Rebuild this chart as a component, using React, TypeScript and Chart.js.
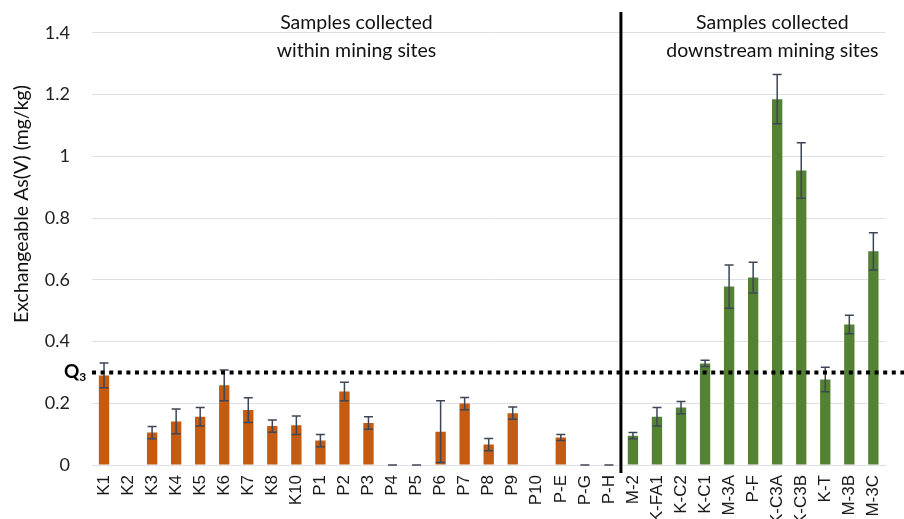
import { useEffect, useRef } from "react";
import { Chart, registerables } from "chart.js";

Chart.register(...registerables);

// ---- data ----
const withinSites = ["K1", "K2", "K3", "K4", "K5", "K6", "K7", "K8", "K10", "P1", "P2", "P3", "P4", "P5", "P6", "P7", "P8", "P9", "P10", "P-E", "P-G", "P-H"];
const withinValues: (number | null)[] = [0.29, null, 0.105, 0.141, 0.156, 0.258, 0.178, 0.126, 0.129, 0.079, 0.238, 0.136, 0, 0, 0.108, 0.199, 0.066, 0.168, null, 0.089, 0, 0];
const withinErrors: (number | null)[] = [0.04, null, 0.02, 0.04, 0.03, 0.05, 0.04, 0.02, 0.03, 0.02, 0.03, 0.02, 0, 0, 0.1, 0.02, 0.02, 0.02, null, 0.01, 0, 0];

const downstreamSites = ["M-2", "K-FA1", "K-C2", "K-C1", "M-3A", "P-F", "K-C3A", "K-C3B", "K-T", "M-3B", "M-3C"];
const downstreamValues: (number | null)[] = [0.095, 0.156, 0.186, 0.329, 0.578, 0.607, 1.185, 0.954, 0.277, 0.455, 0.692];
const downstreamErrors: (number | null)[] = [0.01, 0.03, 0.02, 0.01, 0.07, 0.05, 0.08, 0.09, 0.04, 0.03, 0.06];

const yTickLabels = ["0", "0.2", "0.4", "0.6", "0.8", "1", "1.2", "1.4"];
const q3Value = 0.3;

const groupTitles = [
  ["Samples collected", "within mining sites"],
  ["Samples collected", "downstream mining sites"],
];
const yAxisTitle = "Exchangeable As(V) (mg/kg)";

const ORANGE = "#C55A11";
const GREEN = "#548235";
const ERR = "#3d4656";
const GRID = "#dde1e7";
const TEXT_FONT = "Lato, 'Noto Sans', sans-serif";

const labels = [...withinSites, ...downstreamSites];
const values = [...withinValues, ...downstreamValues];
const errors = [...withinErrors, ...downstreamErrors];
const colors = [...withinSites.map(() => ORANGE), ...downstreamSites.map(() => GREEN)];

const overlayPlugin = {
  id: "overlay",
  afterDatasetsDraw(chart: any) {
    const ctx = chart.ctx as CanvasRenderingContext2D;
    const yScale = chart.scales.y;
    const meta = chart.getDatasetMeta(0);
    const area = chart.chartArea;

    // error bars
    ctx.save();
    ctx.strokeStyle = ERR;
    ctx.lineWidth = 1.5;
    values.forEach((v, i) => {
      const e = errors[i];
      if (v === null || e === null) return;
      const el = meta.data[i];
      const x = el.x;
      const yTop = yScale.getPixelForValue(v + e);
      const yBot = yScale.getPixelForValue(Math.max(0, v - e));
      const cap = 4.5;
      ctx.beginPath();
      ctx.moveTo(x, yTop);
      ctx.lineTo(x, yBot);
      ctx.moveTo(x - cap, yTop);
      ctx.lineTo(x + cap, yTop);
      ctx.moveTo(x - cap, yBot);
      ctx.lineTo(x + cap, yBot);
      ctx.stroke();
    });
    ctx.restore();

    // Q3 dotted line
    const yq = yScale.getPixelForValue(q3Value);
    ctx.save();
    ctx.strokeStyle = "#000";
    ctx.lineWidth = 4;
    ctx.setLineDash([4, 4.6]);
    ctx.beginPath();
    ctx.moveTo(area.left, yq);
    ctx.lineTo(chart.width, yq);
    ctx.stroke();
    ctx.restore();

    // separator
    const n = withinSites.length;
    const sepX = (meta.data[n - 1].x + meta.data[n].x) / 2;
    ctx.save();
    ctx.strokeStyle = "#000";
    ctx.lineWidth = 3;
    ctx.beginPath();
    ctx.moveTo(sepX, 12);
    ctx.lineTo(sepX, area.bottom + 8);
    ctx.stroke();
    ctx.restore();

    // Q3 label
    ctx.save();
    ctx.fillStyle = "#000";
    ctx.textBaseline = "alphabetic";
    ctx.font = `bold 19px ${TEXT_FONT}`;
    ctx.textAlign = "left";
    const qx = 64;
    ctx.fillText("Q", qx, yq + 6);
    const qw = ctx.measureText("Q").width;
    ctx.font = `bold 12px ${TEXT_FONT}`;
    ctx.fillText("3", qx + qw, yq + 9);
    ctx.restore();

    // group titles
    ctx.save();
    ctx.fillStyle = "#111";
    ctx.font = `19.5px ${TEXT_FONT}`;
    ctx.textAlign = "center";
    ctx.textBaseline = "alphabetic";
    const leftCx = (area.left + sepX) / 2;
    const rightCx = area.right - 113;
    groupTitles[0].forEach((t, k) => ctx.fillText(t, leftCx, 29 + k * 28));
    groupTitles[1].forEach((t, k) => ctx.fillText(t, rightCx, 29 + k * 28));
    ctx.restore();

    // y axis title
    ctx.save();
    ctx.fillStyle = "#111";
    ctx.font = `19.5px ${TEXT_FONT}`;
    ctx.translate(22, 204);
    ctx.rotate(-Math.PI / 2);
    ctx.textAlign = "center";
    ctx.textBaseline = "middle";
    ctx.fillText(yAxisTitle, 0, 0);
    ctx.restore();
  },
};

export default function App() {
  const ref = useRef<HTMLCanvasElement>(null);
  useEffect(() => {
    document.body.style.margin = "0";
    document.body.style.overflow = "hidden";
    const chart = new Chart(ref.current!, {
      type: "bar",
      data: {
        labels,
        datasets: [
          {
            data: values as any,
            backgroundColor: colors,
            borderWidth: 0,
            barPercentage: 0.43,
            categoryPercentage: 1,
          },
        ],
      },
      options: {
        responsive: false,
        animation: false,
        layout: { padding: { top: 22, right: 16, left: 0, bottom: 0 } },
        plugins: { legend: { display: false }, tooltip: { enabled: false } },
        scales: {
          x: {
            grid: { display: false, drawTicks: false },
            border: { display: true, color: GRID, width: 1 },
            ticks: {
              autoSkip: false,
              minRotation: 90,
              maxRotation: 90,
              padding: 10,
              color: "#1a1a1a",
              font: { family: "'Liberation Sans', Arial, sans-serif", size: 17 },
            },
            afterFit: (s: any) => {
              s.height = 60;
            },
          },
          y: {
            min: 0,
            max: 1.4,
            grid: { color: GRID, lineWidth: 1, drawTicks: false },
            border: { display: false },
            ticks: {
              stepSize: 0.2,
              padding: 22,
              color: "#222",
              font: { family: TEXT_FONT, size: 18 },
              callback: (_v: any, i: number) => yTickLabels[i],
            },
            afterFit: (s: any) => {
              s.width = 92;
            },
          },
        },
      },
      plugins: [overlayPlugin],
    });
    return () => chart.destroy();
  }, []);
  return (
    <div style={{ width: 904, height: 519, overflow: "hidden" }}>
      <canvas ref={ref} width={904} height={525} style={{ display: "block", width: 904, height: 525 }} />
    </div>
  );
}
